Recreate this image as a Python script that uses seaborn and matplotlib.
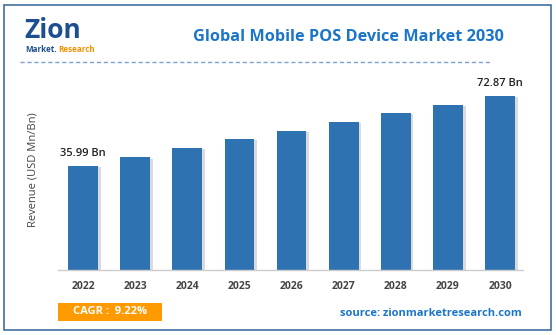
import matplotlib
matplotlib.use("Agg")
import matplotlib.pyplot as plt
import matplotlib.patheffects as pe
from matplotlib.patches import Rectangle
import seaborn as sns
import pandas as pd

years = ["2022", "2023", "2024", "2025", "2026", "2027", "2028", "2029", "2030"]
revenue = [35.99, 40.55, 45.43, 50.15, 54.35, 59.07, 63.79, 68.14, 72.87]
first_label = "35.99 Bn"
last_label = "72.87 Bn"
title = "Global Mobile POS Device Market 2030"
ylabel = "Revenue (USD Mn/Bn)"
cagr_text = "CAGR :  9.22%"
source_text = "source: zionmarketresearch.com"

df = pd.DataFrame({"year": years, "revenue": revenue})

sns.set_style("white")
plt.rcParams['font.family'] = ['Open Sans', 'DejaVu Sans']

W, H = 556, 335
fig = plt.figure(figsize=(W / 100, H / 100), dpi=100)
ax = fig.add_axes([58 / W, 1 - 270 / H, (523 - 58) / W, 200 / H])

bar_color = "#2f72b2"
sns.barplot(data=df, x="year", y="revenue", color=bar_color, width=0.57,
            saturation=1, ax=ax)
ymin, ymax = -18.6, 86.3
for p in ax.patches:
    top = p.get_y() + p.get_height()
    p.set_y(ymin)
    p.set_height(top - ymin)
    p.set_edgecolor("none")
    p.set_path_effects([pe.SimplePatchShadow(offset=(2, -1), shadow_rgbFace="#999999", alpha=0.35),
                        pe.Normal()])
ax.set_ylim(ymin, ymax)
ax.set_xlim(-0.48, 8.44)

for s in ["top", "right", "left"]:
    ax.spines[s].set_visible(False)
ax.spines["bottom"].set_color("#cccccc")
ax.spines["bottom"].set_linewidth(1)
ax.set_yticks([])
ax.set_xlabel("")
ax.set_ylabel(ylabel, fontsize=8, color="#444444", labelpad=14)
ax.tick_params(axis="x", length=0, pad=8, labelsize=7.5, labelcolor="#444444")
for t in ax.get_xticklabels():
    t.set_fontweight("bold")

ax.annotate(first_label, (0, revenue[0]), xytext=(0, 5), textcoords="offset points",
            ha="center", va="bottom", fontsize=8, fontweight="semibold", color="#222222")
ax.annotate(last_label, (8, revenue[-1]), xytext=(0, 5), textcoords="offset points",
            ha="center", va="bottom", fontsize=8, fontweight="semibold", color="#222222")

# Border
fig.patches.append(Rectangle((4 / W, 5 / H), (551 - 4) / W, (330 - 5) / H, transform=fig.transFigure,
                             fill=False, edgecolor="#3f6fa0", linewidth=1.2))
# Title
fig.text(348 / W, 1 - 37 / H, title, ha="center", va="center", fontsize=11.7,
         fontweight="bold", color="#1b75c9")
# Dashed separator
fig.add_artist(plt.Line2D([20 / W, 492 / W], [1 - 62 / H, 1 - 62 / H], transform=fig.transFigure,
                          color="#7fa0d0", linestyle=(0, (3, 2)), linewidth=1))
# Logo
fig.text(24 / W, 1 - 31 / H, "Zion", ha="left", va="center", fontsize=19, fontweight="bold",
         color="#1d4e8f")
fig.text(25 / W, 1 - 50 / H, "Market.", ha="left", va="center", fontsize=5.8, fontweight="bold",
         color="#1d4e8f")
fig.text(58 / W, 1 - 50 / H, "Research", ha="left", va="center", fontsize=5.8, fontweight="bold",
         color="#f39200")

# CAGR box
fig.patches.append(Rectangle((58 / W, 1 - 321 / H), (162 - 58) / W, 18 / H, transform=fig.transFigure,
                             facecolor="#ff9a00", edgecolor="none"))
fig.text(110 / W, 1 - 312 / H, cagr_text, ha="center", va="center", fontsize=8,
         fontweight="bold", color="white")
fig.text(522 / W, 1 - 313 / H, source_text, ha="right", va="center", fontsize=8,
         fontweight="bold", color="#1b75c9")

fig.savefig("out.png", dpi=100)
